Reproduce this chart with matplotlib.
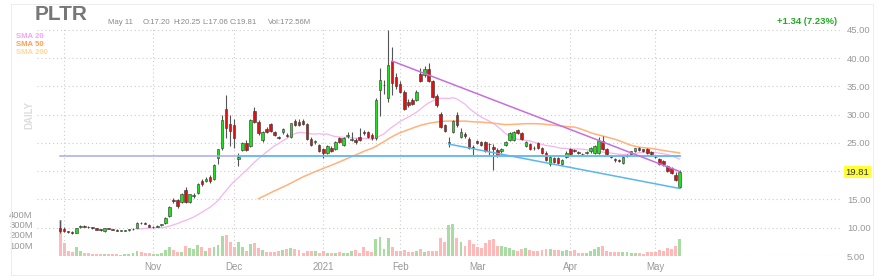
import numpy as np
import pandas as pd
import matplotlib
matplotlib.use('Agg')
import matplotlib.pyplot as plt
from matplotlib import rcParams
from matplotlib.patches import Rectangle
from matplotlib.transforms import blended_transform_factory

rcParams['font.family'] = ['Liberation Sans', 'DejaVu Sans']

# daily PLTR candles, Sep 30 2020 .. May 11 2021
opens = [10.00,
         9.69, 9.35, 9.25, 9.15, 10.05, 10.30, 10.20, 10.05, 9.90, 9.70, 9.35, 9.85, 9.75, 9.65, 9.45, 9.40,
         9.60, 9.70, 10.00, 10.85, 10.80, 10.50,
         10.10, 10.20, 10.40, 10.80, 12.00, 14.90, 14.90, 14.50, 16.70, 14.50, 15.70, 16.10, 18.20, 18.30,
         19.00, 18.60, 22.30, 24.10, 31.10, 28.30,
         28.20, 22.20, 23.80, 25.00, 24.50, 30.70, 28.70, 25.50, 27.40, 28.30, 26.90, 26.00, 26.90, 26.50,
         26.10, 28.90, 28.80, 28.90, 28.40, 25.70, 25.20, 24.60,
         23.90, 23.20, 24.10, 23.90, 25.80, 24.60, 26.30, 25.60, 25.50, 26.10, 26.90, 26.90, 26.40, 25.80,
         34.40, 35.20, 32.90, 39.50, 36.70,
         35.40, 34.10, 32.30, 32.60, 32.60, 37.20, 37.00, 38.10, 35.90, 33.40, 30.10, 28.10, 25.00, 27.00,
         30.00, 26.10, 26.60, 25.70, 24.30,
         25.30, 25.10, 25.10, 24.90, 24.30, 23.80, 23.50, 24.60, 25.50, 25.50, 27.30, 26.70, 24.50, 24.80,
         24.20, 25.00, 24.10, 23.30, 21.20, 22.30, 22.30, 21.30, 22.60,
         23.90, 23.80, 23.40, 23.10, 23.20, 23.50, 23.30, 23.30, 25.40, 23.90, 22.70, 22.10, 21.95, 21.50,
         22.70, 23.10, 23.60, 24.10, 23.90, 23.90, 23.40,
         22.60, 22.10, 21.80, 20.90, 20.50, 19.30, 17.20]
highs = [11.41,
         10.10, 9.45, 9.40, 9.98, 10.40, 10.45, 10.35, 10.20, 10.00, 9.80, 9.95, 9.95, 9.85, 9.75, 9.55, 9.65,
         9.75, 9.95, 11.00, 11.00, 10.95, 10.60,
         10.25, 10.40, 10.70, 11.90, 13.80, 15.30, 15.10, 16.10, 17.20, 16.00, 16.10, 17.90, 18.60, 18.90,
         19.40, 21.20, 24.00, 30.00, 33.50, 30.00,
         29.20, 23.20, 25.20, 25.60, 29.20, 31.30, 29.00, 27.20, 27.80, 28.60, 27.10, 26.30, 27.60, 26.80,
         28.60, 29.30, 29.20, 29.20, 28.60, 26.00, 25.60, 24.90,
         24.20, 24.70, 24.40, 25.30, 26.10, 26.10, 26.90, 27.00, 25.90, 27.70, 27.30, 27.20, 26.70, 33.00,
         38.20, 36.10, 45.00, 42.00, 37.30,
         36.00, 34.40, 32.80, 33.00, 34.30, 38.20, 38.60, 39.20, 36.20, 33.70, 30.40, 28.40, 26.00, 29.10,
         30.50, 27.60, 27.00, 26.00, 24.70,
         25.60, 25.40, 25.30, 25.00, 24.90, 24.10, 24.20, 25.30, 26.90, 27.10, 27.50, 26.90, 25.40, 25.00,
         24.40, 25.20, 24.30, 23.50, 22.80, 22.60, 22.50, 22.20, 23.50,
         24.10, 24.00, 23.60, 23.30, 23.50, 24.30, 24.70, 26.00, 26.20, 24.10, 22.90, 22.40, 22.10, 22.70,
         23.00, 23.60, 24.20, 24.30, 24.00, 24.10, 23.60,
         22.80, 22.30, 22.00, 21.10, 20.70, 19.80, 20.25]
lows = [9.11,
        9.23, 9.10, 8.95, 9.10, 9.90, 10.05, 10.00, 9.85, 9.60, 9.50, 9.30, 9.70, 9.60, 9.35, 9.35, 9.35,
        9.50, 9.60, 9.95, 10.60, 10.60, 10.05,
        9.90, 10.10, 10.30, 10.70, 11.90, 14.40, 13.50, 14.30, 14.40, 14.40, 15.20, 15.90, 17.40, 18.10,
        17.90, 18.50, 21.30, 23.80, 25.80, 24.40,
        24.20, 20.90, 23.60, 23.50, 24.30, 28.50, 26.50, 25.20, 26.80, 27.00, 26.20, 25.70, 26.60, 26.10,
        25.90, 28.00, 28.00, 28.10, 25.60, 24.40, 24.90, 23.40,
        22.40, 23.00, 23.40, 23.70, 25.00, 24.40, 25.90, 25.30, 24.90, 25.30, 26.50, 25.90, 25.60, 25.60,
        29.70, 33.60, 32.30, 33.50, 34.50,
        33.80, 30.90, 31.40, 31.70, 32.40, 35.80, 36.70, 35.80, 33.00, 31.40, 27.70, 26.90, 24.30, 26.70,
        27.80, 25.80, 25.80, 23.90, 22.80,
        24.80, 24.40, 23.40, 22.80, 20.20, 22.50, 23.30, 24.40, 25.30, 25.30, 26.60, 25.50, 24.30, 23.70,
        23.80, 24.00, 23.10, 21.80, 21.00, 21.50, 21.30, 21.10, 22.40,
        22.90, 23.40, 23.10, 22.80, 23.00, 23.30, 23.10, 23.10, 23.70, 22.90, 22.40, 21.60, 21.60, 21.30,
        22.50, 23.00, 23.40, 23.60, 23.40, 23.00, 22.80,
        22.30, 21.10, 21.00, 19.80, 19.50, 18.30, 17.06]
closes = [9.50,
          9.46, 9.20, 9.10, 9.90, 10.25, 10.20, 10.10, 9.95, 9.65, 9.60, 9.90, 9.80, 9.65, 9.40, 9.45, 9.60,
          9.65, 9.85, 10.90, 10.80, 10.75, 10.10,
          10.15, 10.30, 10.60, 11.80, 13.70, 14.80, 13.90, 15.90, 14.60, 15.90, 15.80, 17.80, 17.70, 18.70,
          18.20, 21.10, 23.90, 29.10, 27.60, 27.10,
          25.80, 22.50, 25.00, 23.80, 29.00, 28.70, 26.70, 27.00, 27.00, 27.10, 26.40, 25.90, 27.50, 26.30,
          28.50, 28.10, 28.20, 28.30, 25.70, 24.60, 25.30, 23.60,
          23.30, 24.50, 23.60, 25.10, 25.20, 25.90, 26.40, 25.70, 25.10, 25.50, 26.85, 26.10, 25.80, 32.60,
          36.20, 35.30, 38.80, 35.70, 35.00,
          34.10, 31.10, 31.70, 31.90, 34.00, 36.00, 38.10, 36.00, 33.20, 31.70, 27.90, 27.10, 25.10, 28.90,
          28.10, 26.90, 26.20, 24.20, 24.20,
          25.00, 24.60, 23.60, 24.80, 24.00, 22.80, 24.00, 25.10, 26.70, 26.90, 26.80, 25.70, 25.20, 23.90,
          24.10, 24.20, 23.30, 22.00, 22.60, 21.70, 21.50, 22.00, 23.30,
          23.10, 23.60, 23.30, 23.00, 23.35, 24.10, 24.50, 25.40, 23.90, 23.10, 22.60, 21.90, 21.85, 22.50,
          22.90, 23.50, 24.10, 23.70, 23.50, 23.20, 23.00,
          22.50, 21.30, 21.20, 20.10, 19.70, 18.50, 19.81]
volumes = [340,
           120, 50, 35, 90, 45, 30, 25, 20, 20, 18, 18, 15, 15, 15, 14, 15,
           18, 25, 50, 35, 30, 25,
           20, 22, 25, 57, 83, 57, 41, 41, 95, 73, 70, 105, 90, 48,
           73, 83, 105, 190, 200, 137,
           90, 137, 83, 50, 115, 120, 73, 57, 41, 41, 41, 50, 57, 67,
           80, 67, 57, 27, 48, 45, 45, 30,
           48, 30, 30, 32, 35, 32, 30, 48, 57, 32, 90, 48, 35, 160,
           185, 70, 170, 83, 50,
           45, 60, 35, 35, 45, 70, 35, 45, 48, 50, 175, 130, 300, 307,
           175, 137, 100, 152, 110,
           85, 73, 120, 155, 165, 95, 95, 89, 73, 57, 48, 63, 73, 57,
           50, 48, 57, 67, 70, 57, 57, 48, 57,
           50, 60, 32, 25, 32, 48, 70, 89, 100, 48, 41, 41, 41, 35,
           41, 25, 25, 25, 20, 35, 35,
           38, 57, 48, 73, 67, 95, 165]  # millions

holidays = ['2020-11-26', '2020-12-25', '2021-01-01', '2021-01-18', '2021-02-15', '2021-04-02']
month_names = {10: '', 11: 'Nov', 12: 'Dec', 1: '2021', 2: 'Feb', 3: 'Mar', 4: 'Apr', 5: 'May'}

# drawn trend lines: (start day index, start price, end day index, end price)
flat_line_1 = (0, 22.7, 153, 22.7)
flat_line_2 = (44, 22.7, 153, 22.7)
upper_line = (82, 39.5, 153, 19.95)
lower_line = (96, 24.8, 153, 16.95)

dates = pd.bdate_range('2020-09-30', '2021-05-11')
dates = dates[~dates.isin(pd.to_datetime(holidays))]
o = np.array(opens); h = np.array(highs); l = np.array(lows); c = np.array(closes)
v = np.array(volumes) * 1e6
x = np.arange(len(c))

W, H = 877, 276
fig = plt.figure(figsize=(W / 100, H / 100), dpi=100)
fig.patches.append(Rectangle((11 / W, 1 - 275 / H), 862 / W, 271 / H, transform=fig.transFigure,
                             fill=False, edgecolor='#eeeeee', lw=0.8))

ax = fig.add_axes([37 / W, 20 / H, 803 / W, 228.3 / H])
axv = ax.twinx()
ax.set_zorder(axv.get_zorder() + 1)
ax.patch.set_visible(False)

# volume
up = c >= o
axv.bar(x[up], v[up], width=0.72, color='#a9dca2', lw=0)
axv.bar(x[~up], v[~up], width=0.72, color='#ffb9b9', lw=0)
axv.set_ylim(0, 228.3 / 10.5 * 1e8)
axv.yaxis.tick_left()
axv.set_yticks([1e8, 2e8, 3e8, 4e8])
axv.set_yticklabels(['100M', '200M', '300M', '400M'])
axv.tick_params(axis='y', length=0, pad=3, labelsize=6.8, labelcolor='#999999')

# grid
month_idx = [i for i in range(1, len(dates)) if dates[i].month != dates[i - 1].month]
for i in month_idx:
    ax.axvline(i, color='#cccccc', lw=0.8, ls=(0, (1, 2.5)), zorder=0)
for p in range(5, 50, 5):
    ax.axhline(p, color='#cccccc', lw=0.8, ls=(0, (1, 2.5)), zorder=0)

# SMAs
sma20 = pd.Series(c).rolling(20).mean()
sma50 = pd.Series(c).rolling(50).mean()
ax.plot(x, sma20, color='#f6b4ee', lw=0.9, zorder=1)
ax.plot(x, sma50, color='#ffb27a', lw=1.1, zorder=1)

# candles
ax.vlines(x, l, h, color='#555555', lw=0.8, zorder=2)
body = np.maximum(np.abs(c - o), 0.1)
bottom = np.minimum(o, c)
ax.bar(x[up], body[up], bottom=bottom[up], width=0.62, color='#22dd22', edgecolor='#333333', lw=0.4, zorder=3)
ax.bar(x[~up], body[~up], bottom=bottom[~up], width=0.62, color='#dd1111', edgecolor='#333333', lw=0.4, zorder=3)

# trend lines
for ln, col in [(flat_line_1, '#aaaaee'), (flat_line_2, '#5bbcef'), (upper_line, '#c86edc'), (lower_line, '#5bb6ee')]:
    ax.plot([ln[0], ln[2]], [ln[1], ln[3]], color=col, lw=1.1, zorder=4)

ax.set_xlim(-5.7, 192.6)
ax.set_ylim(5, 45.4)
ax.yaxis.tick_right()
ax.set_yticks(range(5, 50, 5))
# the 20.00 label sits under the last-price box
ax.set_yticklabels(['' if p == 20 else '%.2f' % p for p in range(5, 50, 5)])
ax.tick_params(axis='y', length=0, pad=5, labelsize=6.8, labelcolor='#999999')
ax.set_xticks(month_idx)
ax.set_xticklabels([month_names[dates[i].month] for i in month_idx])
ax.tick_params(axis='x', length=0, pad=4, labelsize=7, labelcolor='#999999')
for a in (ax, axv):
    for s in a.spines.values():
        s.set_visible(False)

trans = blended_transform_factory(ax.transAxes, ax.transData)
ax.text(1.007, c[-1], '%.2f' % c[-1], transform=trans, fontsize=6.8, color='#333333', va='center', ha='left',
        bbox=dict(boxstyle='square,pad=0.15', fc='#ffff33', ec='none'))

# header texts
def fx(px):
    return px / W

def fy(py):
    return 1 - py / H

fig.text(fx(35), fy(15), 'PLTR', fontsize=15, fontweight='bold', color='#777777', va='center')
for px, s in [(108, 'May 11'), (143, 'O:17.20'), (173, 'H:20.25'), (202, 'L:17.06'), (230, 'C:19.81'), (268, 'Vol:172.56M')]:
    fig.text(fx(px), fy(22), s, fontsize=5.6, color='#888888', va='center')
fig.text(fx(837), fy(22), '+1.34 (7.23%)', fontsize=6.8, fontweight='bold', color='#22aa22', va='center', ha='right')
for py, s, col in [(36, 'SMA 20', '#f3a6ee'), (44, 'SMA 50', '#ff9f55'), (52, 'SMA 200', '#ffd8a0')]:
    fig.text(fx(16), fy(py), s, fontsize=5.6, fontweight='bold', color=col, va='center')
fig.text(fx(29), fy(115), 'DAILY', fontsize=7, fontweight='bold', color='#dddddd', rotation=90, va='center', ha='center')

fig.savefig('out.png', dpi=100)
